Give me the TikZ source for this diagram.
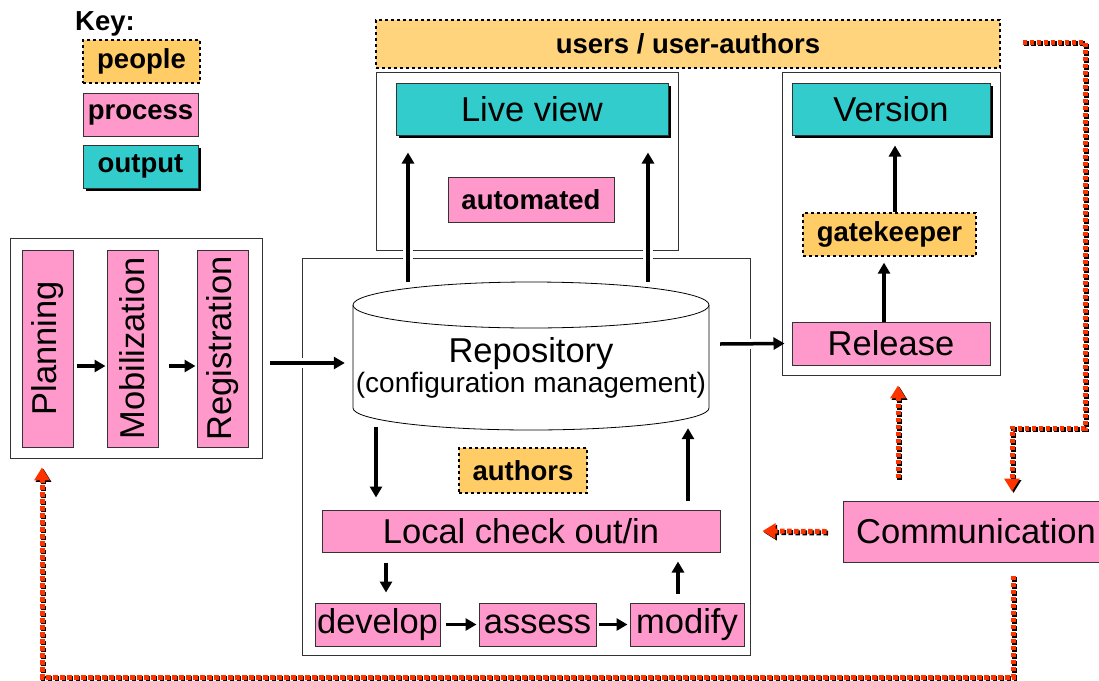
\documentclass[tikz,border=0pt]{standalone}
\usepackage{fontspec}
\setmainfont{Liberation Sans}
\usepackage{xcolor}
\usepackage{tikz}
\usetikzlibrary{arrows.meta,shadows}
\definecolor{people}{HTML}{FFCC66}
\definecolor{process}{HTML}{FF99CC}
\definecolor{output}{HTML}{33CCCC}
\definecolor{commred}{HTML}{FF3300}
\newcommand{\bigtxt}{\fontsize{34.5}{37}\selectfont}
\newcommand{\boldtxt}{\fontsize{27.5}{30}\selectfont\bfseries}

\begin{document}
\begin{tikzpicture}[x=1pt,y=-1pt,
	sz/.style 2 args={minimum width=#1pt,minimum height=#2pt,inner sep=0pt},
	frame/.style={draw=black!80,line width=0.8pt},
	pbox/.style={draw,dashed,line width=1.3pt,fill=people,font=\boldtxt},
	prbox/.style={draw=black!80,line width=1pt,fill=process,font=\bigtxt},
	obox/.style={draw=black!80,line width=1pt,fill=output,font=\bigtxt,
		drop shadow={shadow xshift=3pt,shadow yshift=-3pt,fill=black,opacity=1}},
	arr/.style={line width=3.5pt,-{Triangle[length=11pt,width=12pt]}},
	halo/.style={preaction={draw=white,line width=10pt,-,shorten <=12pt,shorten >=14pt}},
	redline/.style={draw=commred,line width=5pt,dash pattern=on 4.5pt off 2.5pt,
		-{Triangle[length=13pt,width=15pt,fill=commred]}},
	redshadow/.style={redline,draw=black,transform canvas={shift={(1.5pt,-1.5pt)}},
		-{Triangle[length=13pt,width=15pt,fill=black]}}]
	\useasboundingbox (0,0) rectangle (1099,680);

	% key
	\node[font=\boldtxt] (key) at (105,24) {Key:};
	\node[pbox,sz={117}{43}] (kpeople) at (141.5,61.5) {people};
	\node[prbox,sz={115}{43},font=\boldtxt] (kprocess) at (140.5,114.5) {process};
	\node[obox,sz={115}{43},font=\boldtxt] (koutput) at (140.5,166.5) {output};

	% containers
	\node[frame,sz={252}{220}] (leftbox) at (136,348) {};
	\node[frame,sz={448}{397}] (midbox) at (526,456.5) {};
	\node[frame,sz={302}{178}] (lvbox) at (527,161) {};
	\node[frame,sz={218}{303}] (verbox) at (891,223.5) {};
	\node[pbox,fill=people!85!white,sz={624}{48}] (users) at (688,44) {users / user-authors};

	% live view and version
	\node[obox,sz={272}{52}] (live) at (532,109) {Live view};
	\node[prbox,sz={166}{45},font=\boldtxt] (auto) at (531,199.5) {automated};
	\node[obox,sz={198}{52}] (version) at (891,109) {Version};
	\node[pbox,sz={173}{43}] (gate) at (889.5,234.5) {gatekeeper};
	\node[prbox,sz={198}{43}] (release) at (891,343.5) {Release};

	% start up
	\node[prbox,rotate=90,sz={197}{51}] (plan) at (47.5,348.5) {Planning};
	\node[prbox,rotate=90,sz={197}{51}] (mob) at (132.5,348.5) {Mobilization};
	\node[prbox,rotate=90,sz={197}{51}] (reg) at (222.5,348.5) {Registration};

	% repository
	\draw[line width=0.8pt,fill=white] (353,305) -- (353,408)
		arc[start angle=180,end angle=0,x radius=178,y radius=22] -- (709,305);
	\draw[line width=0.8pt,fill=white] (531,305) ellipse[x radius=178,y radius=23];
	\node[sz={356}{148}] (repo) at (531,356) {};
	\node[align=center] (repotxt) at (531,368) {{\bigtxt Repository}\\[2pt]
		{\fontsize{28}{30}\selectfont(configuration management)}};

	% authors work
	\node[pbox,sz={128}{45}] (authors) at (523,470.5) {authors};
	\node[prbox,sz={398}{42}] (local) at (521,531) {Local check out/in};
	\node[prbox,sz={125}{43}] (develop) at (377.5,624.5) {develop};
	\node[prbox,sz={117}{43}] (assess) at (537.5,624.5) {assess};
	\node[prbox,sz={114}{43}] (modify) at (687,624.5) {modify};
	\node[prbox,sz={266}{61}] (commun) at (976,531.5) {Communication};

	% flow
	\draw[arr,halo] ([xshift=-123pt]repo.north) -- ([xshift=-124pt,yshift=-17pt]live.south);
	\draw[arr,halo] ([xshift=117pt]repo.north) -- ([xshift=116pt,yshift=-17pt]live.south);
	\draw[arr,halo] ([xshift=11pt,yshift=12pt]repo.east) -- ([xshift=-7pt]release.west);
	\draw[arr,halo] ([xshift=8pt,yshift=-15pt]leftbox.east) -- ([xshift=-8pt,yshift=-7pt]repo.west);
	\draw[arr] ([xshift=3pt,yshift=-17.5pt]plan.south) -- ([xshift=-1pt,yshift=-17.5pt]mob.north);
	\draw[arr] ([xshift=10pt,yshift=-17.5pt]mob.south) -- ([xshift=-1pt,yshift=-17.5pt]reg.north);
	\draw[arr] ([xshift=-155pt,yshift=3pt]repo.south) -- ([xshift=-145pt,yshift=12pt]local.north);
	\draw[arr] ([xshift=167pt,yshift=9pt]local.north) -- ([xshift=157pt,yshift=2pt]repo.south);
	\draw[arr] ([xshift=-135pt,yshift=-10pt]local.south) -- ([xshift=8.5pt,yshift=10pt]develop.north);
	\draw[arr] ([xshift=-9pt,yshift=9pt]modify.north) -- ([xshift=157pt,yshift=-9pt]local.south);
	\draw[arr] ([xshift=5pt]develop.east) -- ([xshift=-2pt]assess.west);
	\draw[arr] ([xshift=2pt]assess.east) -- ([xshift=-2pt]modify.west);
	\draw[arr] ([xshift=5.5pt]gate.north) -- ([xshift=4pt,yshift=-10pt]version.south);
	\draw[arr] ([xshift=-7pt]release.north) -- ([xshift=-5.5pt,yshift=-6pt]gate.south);

	% communication (shadow first, then red)
	\coordinate (rt) at (1085,428);
	\coordinate (cv) at (898,478);
	\coordinate (cb) at (1013,677);
	\foreach \s in {redshadow,redline}{
		\draw[\s] ([xshift=22pt,yshift=2pt]users.east) -| (rt) -| ([xshift=36pt,yshift=9pt]commun.north);
		\draw[\s] ([xshift=-16pt]commun.west) -- ([xshift=42pt]local.east);
		\draw[\s] (cv) -- ([xshift=7pt,yshift=-10pt]verbox.south);
		\draw[\s] ([xshift=37pt,yshift=-13pt]commun.south) -- (cb) -| ([xshift=-94pt,yshift=-9pt]leftbox.south);
	}
\end{tikzpicture}
\end{document}
